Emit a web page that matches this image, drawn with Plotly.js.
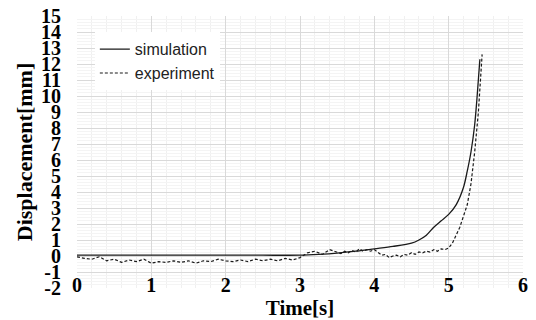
<!DOCTYPE html>
<html>
<head>
<meta charset="utf-8">
<script src="https://cdn.plot.ly/plotly-3.0.1.min.js"></script>
<style>html,body{margin:0;padding:0;background:#fff;}#chart{width:536px;height:320px;}</style>
</head>
<body>
<div id="chart"></div>
<script>
// Simulation series
const simTime = [0, 0.5, 1, 1.5, 2, 2.5, 3, 3.25, 3.5, 3.75, 4, 4.25, 4.5, 4.6, 4.7, 4.8, 4.9, 5.0, 5.1, 5.2, 5.25, 5.3, 5.35, 5.38, 5.42];
const simDisp = [0.05, 0.05, 0.05, 0.05, 0.05, 0.05, 0.05, 0.1, 0.18, 0.3, 0.45, 0.6, 0.8, 1.0, 1.3, 1.8, 2.2, 2.6, 3.2, 4.3, 5.3, 6.5, 8.2, 9.8, 12.3];

// Experiment series
const expTime = [0, 0.1, 0.2, 0.3, 0.4, 0.5, 0.6, 0.7, 0.8, 0.9, 1.0, 1.1, 1.2, 1.3, 1.4, 1.5, 1.6, 1.7, 1.8, 1.9,
  2.0, 2.1, 2.2, 2.3, 2.4, 2.5, 2.6, 2.7, 2.8, 2.9, 3.0, 3.1, 3.2, 3.3, 3.4, 3.5, 3.55, 3.6, 3.65, 3.7, 3.75, 3.8, 3.85, 3.9, 3.95,
  4.0, 4.05, 4.1, 4.15, 4.2, 4.25, 4.3, 4.35, 4.4, 4.45, 4.5, 4.55, 4.6, 4.65, 4.7, 4.75, 4.8, 4.85, 4.9, 4.95,
  5.0, 5.05, 5.1, 5.15, 5.2, 5.25, 5.3, 5.35, 5.4, 5.43, 5.45];
const expDisp = [-0.05, -0.15, -0.2, -0.05, -0.3, -0.2, -0.4, -0.25, -0.35, -0.2, -0.45, -0.35, -0.4, -0.3, -0.4, -0.3, -0.45, -0.3, -0.35, -0.2,
  -0.3, -0.35, -0.25, -0.35, -0.2, -0.3, -0.2, -0.3, -0.15, -0.25, -0.1, 0.2, 0.3, 0.1, 0.4, 0.25, 0.15, 0.3, 0.2, 0.35, 0.25, 0.45, 0.3, 0.4, 0.3,
  0.4, 0.2, 0.05, 0.1, -0.1, 0.0, 0.05, -0.05, 0.1, 0.05, 0.2, 0.1, 0.25, 0.2, 0.3, 0.25, 0.4, 0.3, 0.45, 0.4,
  0.5, 0.8, 1.3, 1.8, 2.5, 3.2, 4.5, 6.5, 9.0, 11.0, 12.6];

const seriesNames = ["simulation", "experiment"];
const xTicks = [0, 1, 2, 3, 4, 5, 6];
const yTicks = [-2, -1, 0, 1, 2, 3, 4, 5, 6, 7, 8, 9, 10, 11, 12, 13, 14, 15];

const serif = {family: "Liberation Serif, Times New Roman, serif", size: 20, color: "#000", weight: "bold"};

const traces = [
  {x: simTime, y: simDisp, name: seriesNames[0], mode: "lines", line: {color: "#1a1a1a", width: 1.3, shape: "spline", smoothing: 0.8}},
  {x: expTime, y: expDisp, name: seriesNames[1], mode: "lines", line: {color: "#1a1a1a", width: 1.2, dash: "3px,2px"}}
];

const layout = {
  width: 536, height: 320,
  margin: {l: 77, r: 13, t: 16, b: 32},
  paper_bgcolor: "#fff", plot_bgcolor: "#fff",
  showlegend: true,
  legend: {x: 0.04, y: 0.94, xanchor: "left", yanchor: "top", bgcolor: "#fff", borderwidth: 0,
    font: {family: "Liberation Sans, Arial, sans-serif", size: 16, color: "#222"}},
  xaxis: {
    range: [0, 6], tickvals: xTicks, ticktext: xTicks.map(String),
    showgrid: true, gridcolor: "#d9d9d9", gridwidth: 1,
    minor: {dtick: 0.2, showgrid: true, gridcolor: "#f0f0f0", gridwidth: 1},
    zeroline: false, showline: false, ticks: "",
    tickfont: serif, ticklabelstandoff: -17,
    title: {text: "Time[s]", font: {family: serif.family, size: 21, color: "#000", weight: "bold"}, standoff: 0},
    automargin: false
  },
  yaxis: {
    range: [-2, 15], tickvals: yTicks, ticktext: yTicks.map(String),
    showgrid: true, gridcolor: "#d9d9d9", gridwidth: 1,
    minor: {dtick: 0.2, showgrid: true, gridcolor: "#f4f4f4", gridwidth: 1},
    zeroline: false, showline: false, ticks: "",
    tickfont: serif, ticklabelstandoff: 15,
    title: {text: "Displacement[mm]", font: {family: serif.family, size: 22, color: "#000", weight: "bold"}, standoff: 2},
    automargin: false
  }
};

Plotly.newPlot("chart", traces, layout, {displayModeBar: false, staticPlot: true});
</script>
</body>
</html>
